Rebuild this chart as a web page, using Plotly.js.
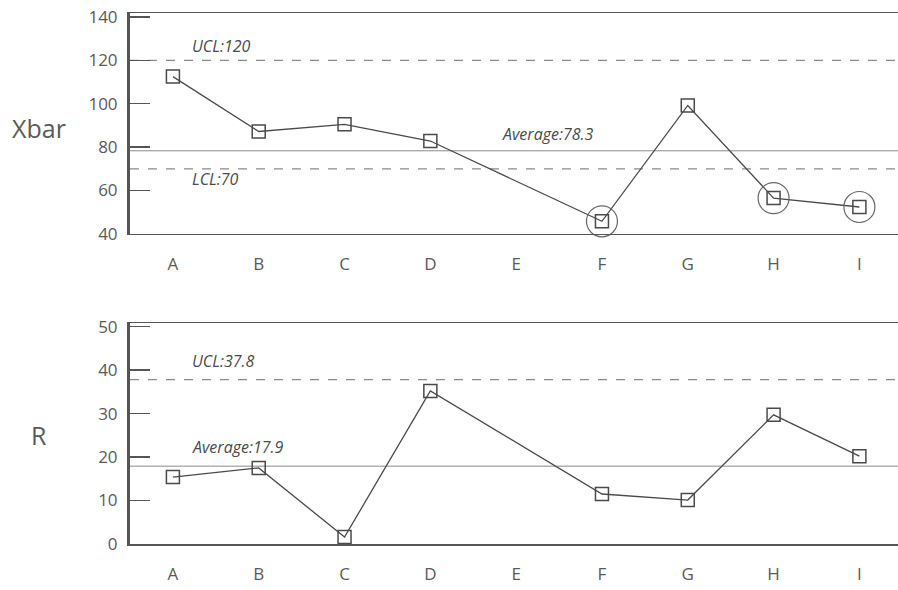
<!DOCTYPE html>
<html>
<head>
<meta charset="utf-8">
<script src="https://cdn.plot.ly/plotly-3.0.1.min.js"></script>
<style>html,body{margin:0;padding:0;background:#fff;}#chart{width:898px;height:590px;}</style>
</head>
<body>
<div id="chart"></div>
<script>
// ---- data ----
const categories = ["A", "B", "C", "D", "E", "F", "G", "H", "I"];
const xbarValues = [112.5, 87.2, 90.5, 82.8, null, 45.8, 99.2, 56.5, 52.4];
const rangeValues = [15.4, 17.5, 1.6, 35.2, null, 11.5, 10.1, 29.7, 20.2];
const xbarLimits = { ucl: 120, avg: 78.3, lcl: 70 };
const rLimits = { ucl: 37.8, avg: 17.9 };
const xbarTicks = [40, 60, 80, 100, 120, 140];
const rTicks = [0, 10, 20, 30, 40, 50];

// out-of-control points (outside control limits)
const oocX = [], oocY = [];
categories.forEach((c, i) => {
  const v = xbarValues[i];
  if (v !== null && (v < xbarLimits.lcl || v > xbarLimits.ucl)) { oocX.push(c); oocY.push(v); }
});

const lineCol = "#4a4a4a";
const textCol = "#5a5a5a";
const font = "'Open Sans', 'Noto Sans', sans-serif";

const traces = [
  { x: categories, y: xbarValues, type: "scatter", mode: "lines+markers", connectgaps: true,
    xaxis: "x", yaxis: "y", cliponaxis: false,
    line: { color: lineCol, width: 1.3 },
    marker: { symbol: "square-open", size: 13, color: lineCol, line: { width: 1.5, color: lineCol } } },
  { x: oocX, y: oocY, type: "scatter", mode: "markers", xaxis: "x", yaxis: "y", cliponaxis: false,
    marker: { symbol: "circle-open", size: 31, color: "#666", line: { width: 1.2, color: "#666" } } },
  { x: categories, y: rangeValues, type: "scatter", mode: "lines+markers", connectgaps: true,
    xaxis: "x2", yaxis: "y2", cliponaxis: false,
    line: { color: lineCol, width: 1.3 },
    marker: { symbol: "square-open", size: 13, color: lineCol, line: { width: 1.5, color: lineCol } } }
];

function hline(yref, y, dash, color, width) {
  return { type: "line", xref: "paper", x0: 0, x1: 1, yref: yref, y0: y, y1: y,
           line: { color: color, width: width, dash: dash }, layer: "below" };
}

const shapes = [
  hline("y", xbarLimits.ucl, "dash", "#8a8a8a", 1.3),
  hline("y", xbarLimits.avg, "solid", "#8a8a8a", 1),
  hline("y", xbarLimits.lcl, "dash", "#8a8a8a", 1.3),
  hline("y2", rLimits.ucl, "dash", "#8a8a8a", 1.3),
  hline("y2", rLimits.avg, "solid", "#8a8a8a", 1)
];

const lblFont = { family: font, size: 16, color: "#4a4a4a", style: "italic" };
function lbl(xref, x, yref, y, text, yshift) {
  return { xref: xref, x: x, yref: yref, y: y, text: "<i>" + text + "</i>", showarrow: false,
           xanchor: "left", yanchor: "middle", yshift: yshift, font: lblFont };
}

const annotations = [
  lbl("x", 0.2, "y", xbarLimits.ucl, "UCL:" + xbarLimits.ucl, 14),
  lbl("x", 0.2, "y", xbarLimits.lcl, "LCL:" + xbarLimits.lcl, -10),
  lbl("x", 3.81, "y", xbarLimits.avg, "Average:" + xbarLimits.avg, 17),
  lbl("x2", 0.2, "y2", rLimits.ucl, "UCL:" + rLimits.ucl, 19),
  lbl("x2", 0.2, "y2", rLimits.avg, "Average:" + rLimits.avg, 19),
  { xref: "paper", x: -0.118, yref: "y", y: 89, text: "Xbar", showarrow: false,
    xanchor: "center", yanchor: "middle", font: { family: font, size: 25, color: textCol } },
  { xref: "paper", x: -0.118, yref: "y2", y: 25, text: "R", showarrow: false,
    xanchor: "center", yanchor: "middle", font: { family: font, size: 25, color: textCol } }
];

const tickFont = { family: font, size: 17, color: textCol };
const xCommon = {
  type: "category", range: [-0.5, 8.45], showgrid: false, zeroline: false,
  showline: true, mirror: true, linecolor: "#555", linewidth: 1.5,
  ticks: "", tickfont: tickFont, ticklabelstandoff: 14, fixedrange: true
};
const yCommon = {
  showgrid: false, zeroline: false, showline: true, linecolor: "#555", linewidth: 3,
  ticks: "inside", ticklen: 20, tickwidth: 1.5, tickcolor: "#555",
  tickfont: tickFont, ticklabelstandoff: 6, tickmode: "array", fixedrange: true
};

const layout = {
  width: 898, height: 590,
  margin: { l: 130, r: 0, t: 13, b: 46 },
  paper_bgcolor: "#fff", plot_bgcolor: "#fff",
  showlegend: false,
  font: { family: font, color: textCol },
  xaxis: Object.assign({}, xCommon, { domain: [0, 1], anchor: "y" }),
  yaxis: Object.assign({}, yCommon, { domain: [0.584, 1], range: [40, 141.8], tickvals: xbarTicks, anchor: "x" }),
  xaxis2: Object.assign({}, xCommon, { domain: [0, 1], anchor: "y2" }),
  yaxis2: Object.assign({}, yCommon, { domain: [0, 0.416], range: [0, 50.8], tickvals: rTicks, anchor: "x2" }),
  shapes: shapes,
  annotations: annotations
};

Plotly.newPlot("chart", traces, layout, { displayModeBar: false, staticPlot: true });
</script>
</body>
</html>
